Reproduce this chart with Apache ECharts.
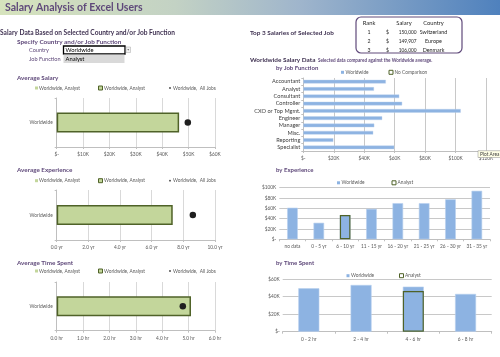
<!DOCTYPE html>
<html><head><meta charset="utf-8">
<script src="https://cdn.jsdelivr.net/npm/echarts@6/dist/echarts.min.js"></script>
<style>html,body{margin:0;padding:0;background:#fff}#c{width:500px;height:357px}</style>
</head><body><div id="c"></div>
<script>
// ---------- data ----------
const pageTitle = 'Salary Analysis of Excel Users';
const selectedCountry = 'Worldwide';
const selectedJob = 'Analyst';
const summaryCategory = ['Worldwide'];
const avgSalaryAnalyst = [46400];
const avgSalaryAllJobs = [49700];
const avgExpAnalyst = [7.33];
const avgExpAllJobs = [8.6];
const avgTimeAnalyst = [5.09];
const avgTimeAllJobs = [4.78];
const salaryTickLabels = ['$-', '$10K', '$20K', '$30K', '$40K', '$50K', '$60K'];
const expTickLabels = ['0.0 yr', '2.0 yr', '4.0 yr', '6.0 yr', '8.0 yr', '10.0 yr'];
const timeTickLabels = ['0.0 hr', '1.0 hr', '2.0 hr', '3.0 hr', '4.0 hr', '5.0 hr', '6.0 hr'];

const top3Rank = ['1', '2', '3'];
const top3Salary = ['150,000', '149,907', '106,000'];
const top3Country = ['Switzerland', 'Europe', 'Denmark'];

const jobFunctions = ['Accountant', 'Analyst', 'Consultant', 'Controller', 'CXO or Top Mgmt.', 'Engineer', 'Manager', 'Misc.', 'Reporting', 'Specialist'];
const jobWorldwide = [54200, 46400, 63000, 64900, 103400, 51800, 46600, 45900, 19700, 59700];
const jobTickLabels = ['$-', '$20K', '$40K', '$60K', '$80K', '$100K', '$120K'];

const expCategories = ['no data', '0 - 5 yr', '6 - 10 yr', '11 - 15 yr', '16 - 20 yr', '21 - 25 yr', '26 - 30 yr', '31 - 35 yr'];
const expWorldwide = [61200, 32000, 47000, 59000, 70000, 70000, 77500, 94000];
const expAnalyst = [null, null, 47000, null, null, null, null, null];
const expTickLabels2 = ['$-', '$20K', '$40K', '$60K', '$80K', '$100K'];

const timeCategories = ['0 - 2 hr', '2 - 4 hr', '4 - 6 hr', '6 - 8 hr'];
const timeWorldwide = [49400, 53200, 51300, 43000];
const timeAnalyst = [null, null, 46300, null];
const timeTickLabels2 = ['$-', '$20K', '$40K', '$60K'];

// ---------- styles ----------
const FONT = 'Lato';
const BLUE = '#8db3e2';
const GREEN = '#c3d69b';
const DKGREEN = '#4f6228';
const PURPLE = '#5f497a';
const DKPURPLE = '#3f3151';
const AXC = '#595959';
const GRID = '#d9d9d9';

const chart = echarts.init(document.getElementById('c'), null, {renderer: 'canvas'});

function lbl(arr, step) { return v => arr[Math.round(v / step)] ?? ''; }
function txt(x, y, s, size, o) {
  o = o || {};
  return {type: 'text', x: x, y: y, z: 100, style: {text: s, font: (o.bold ? 'bold ' : '') + size + 'px ' + FONT,
    fill: o.color || DKPURPLE, align: o.align || 'left', verticalAlign: 'middle'}};
}
function rect(x, y, w, h, fill, stroke, lw, r) {
  return {type: 'rect', z: 100, shape: {x: x, y: y, width: w, height: h, r: r || 0},
    style: {fill: fill, stroke: stroke || null, lineWidth: lw || 0}};
}
function dot(x, y, r, c) { return {type: 'circle', z: 100, shape: {cx: x, cy: y, r: r}, style: {fill: c}}; }

function leftLegend(y) {
  return [
    rect(35, y - 1.5, 3, 3, GREEN), txt(39, y, 'Worldwide, Analyst', 4.8, {color: AXC}),
    rect(98.5, y - 2, 4, 4, GREEN, DKGREEN, 1), txt(104, y, 'Worldwide, Analyst', 4.8, {color: AXC}),
    dot(170, y, 0.9, '#404040'), txt(173, y, 'Worldwide,  All Jobs', 4.8, {color: AXC})
  ];
}

const valAxisBase = {
  type: 'value', min: 0,
  axisLine: {show: true, lineStyle: {color: '#bfbfbf', width: 1}},
  axisTick: {show: true, length: 2, lineStyle: {color: '#bfbfbf'}},
  splitLine: {show: true, lineStyle: {color: GRID, width: 1}},
  axisLabel: {fontFamily: FONT, fontSize: 4.8, color: AXC, margin: 5}
};
const catAxisBase = {
  type: 'category',
  axisLine: {show: true, lineStyle: {color: '#bfbfbf', width: 1}},
  axisTick: {show: true, length: 2, lineStyle: {color: '#bfbfbf'}},
  axisLabel: {fontFamily: FONT, fontSize: 4.8, color: AXC, margin: 4}
};
const gridBase = {containLabel: false, outerBoundsMode: 'none'};

const grids = [
  Object.assign({left: 56.7, top: 98, width: 158.3, height: 49}, gridBase),
  Object.assign({left: 56.7, top: 190, width: 158.3, height: 50}, gridBase),
  Object.assign({left: 56.7, top: 282, width: 158.3, height: 48.7}, gridBase),
  Object.assign({left: 303.3, top: 78, width: 182.7, height: 73}, gridBase),
  Object.assign({left: 279.3, top: 187.7, width: 210.7, height: 51.6}, gridBase),
  Object.assign({left: 282.7, top: 279, width: 209, height: 52.7}, gridBase)
];

const xAxes = [
  Object.assign({}, valAxisBase, {gridIndex: 0, max: 60000, interval: 10000, axisLabel: Object.assign({}, valAxisBase.axisLabel, {formatter: lbl(salaryTickLabels, 10000)})}),
  Object.assign({}, valAxisBase, {gridIndex: 1, max: 10, interval: 2, axisLabel: Object.assign({}, valAxisBase.axisLabel, {formatter: lbl(expTickLabels, 2)})}),
  Object.assign({}, valAxisBase, {gridIndex: 2, max: 6, interval: 1, axisLabel: Object.assign({}, valAxisBase.axisLabel, {formatter: lbl(timeTickLabels, 1)})}),
  Object.assign({}, valAxisBase, {gridIndex: 3, max: 120000, interval: 20000, splitLine: {show: true, lineStyle: {color: '#c8c8c8'}}, axisLabel: Object.assign({}, valAxisBase.axisLabel, {formatter: lbl(jobTickLabels, 20000)})}),
  Object.assign({}, catAxisBase, {gridIndex: 4, data: expCategories, axisLabel: Object.assign({}, catAxisBase.axisLabel, {interval: 0, margin: 5})}),
  Object.assign({}, catAxisBase, {gridIndex: 5, data: timeCategories, axisLabel: Object.assign({}, catAxisBase.axisLabel, {interval: 0, margin: 5})})
];
const yAxes = [
  Object.assign({}, catAxisBase, {gridIndex: 0, data: summaryCategory}),
  Object.assign({}, catAxisBase, {gridIndex: 1, data: summaryCategory}),
  Object.assign({}, catAxisBase, {gridIndex: 2, data: summaryCategory}),
  Object.assign({}, catAxisBase, {gridIndex: 3, data: jobFunctions, inverse: true, axisLabel: Object.assign({}, catAxisBase.axisLabel, {interval: 0, fontSize: 5.6, color: '#404040', margin: 3})}),
  Object.assign({}, valAxisBase, {gridIndex: 4, max: 100000, interval: 20000, axisLine: {show: false}, axisTick: {show: false}, splitLine: {show: true, lineStyle: {color: '#c8c8c8'}}, axisLabel: Object.assign({}, valAxisBase.axisLabel, {margin: 3, formatter: lbl(expTickLabels2, 20000)})}),
  Object.assign({}, valAxisBase, {gridIndex: 5, max: 60000, interval: 20000, axisLine: {show: false}, axisTick: {show: false}, splitLine: {show: true, lineStyle: {color: '#c8c8c8'}}, axisLabel: Object.assign({}, valAxisBase.axisLabel, {margin: 3, formatter: lbl(timeTickLabels2, 20000)})})
];

function summarySeries(i, barVals, dotVals) {
  return [
    {type: 'bar', name: 'Worldwide, Analyst', xAxisIndex: i, yAxisIndex: i, data: barVals, barWidth: 20,
      itemStyle: {color: GREEN, borderColor: DKGREEN, borderWidth: 1.5}, z: 2},
    {type: 'scatter', name: 'Worldwide, All Jobs', xAxisIndex: i, yAxisIndex: i, data: dotVals.map((v, k) => [v, k]),
      symbolSize: 6.5, itemStyle: {color: '#1f1f1f', opacity: 1}, z: 5}
  ];
}

const series = [].concat(
  summarySeries(0, avgSalaryAnalyst, avgSalaryAllJobs),
  summarySeries(1, avgExpAnalyst, avgExpAllJobs),
  summarySeries(2, avgTimeAnalyst, avgTimeAllJobs),
  [
    {type: 'bar', name: 'Worldwide', xAxisIndex: 3, yAxisIndex: 3, data: jobWorldwide, barWidth: 3.6,
      itemStyle: {color: BLUE, borderColor: '#b9d0ee', borderWidth: 0.4}},
    {type: 'bar', name: 'Worldwide', xAxisIndex: 4, yAxisIndex: 4, data: expWorldwide, barWidth: 10.6,
      itemStyle: {color: BLUE, borderColor: '#b9d0ee', borderWidth: 0.6}},
    {type: 'bar', name: 'Analyst', xAxisIndex: 4, yAxisIndex: 4, data: expAnalyst, barWidth: 10.6, barGap: '-100%',
      itemStyle: {color: 'rgba(0,0,0,0)', borderColor: DKGREEN, borderWidth: 1.2}, z: 3},
    {type: 'bar', name: 'Worldwide', xAxisIndex: 5, yAxisIndex: 5, data: timeWorldwide, barWidth: 21,
      itemStyle: {color: BLUE, borderColor: '#b9d0ee', borderWidth: 0.6}},
    {type: 'bar', name: 'Analyst', xAxisIndex: 5, yAxisIndex: 5, data: timeAnalyst, barWidth: 21, barGap: '-100%',
      itemStyle: {color: 'rgba(0,0,0,0)', borderColor: DKGREEN, borderWidth: 1.2}, z: 3}
  ]
);

const graphics = [
  {type: 'rect', z: 1, shape: {x: 0, y: 0, width: 500, height: 15},
    style: {fill: new echarts.graphic.LinearGradient(0, 0, 1, 0, [
      {offset: 0, color: '#d6e3bd'}, {offset: 0.35, color: '#c3d2c4'}, {offset: 0.6, color: '#9fb5cc'}, {offset: 1, color: '#4f81bd'}])}},
  txt(5, 7.5, pageTitle, 10.5, {bold: true, color: PURPLE}),
  txt(0, 33, 'Salary Data Based on Selected Country and/or Job Function', 6.6, {bold: true}),
  txt(17, 41.7, 'Specify Country and/or Job Function', 6.4, {bold: true, color: PURPLE}),
  txt(29, 50, 'Country', 5.6, {color: PURPLE}),
  txt(29, 58.7, 'Job Function', 5.6, {color: PURPLE}),
  rect(63.5, 46, 61.5, 8, '#ffffff', '#000000', 1.3),
  txt(65.5, 50, selectedCountry, 5.8, {color: '#000'}),
  rect(126, 47, 4.5, 5.5, '#f2f2f2', '#a6a6a6', 0.5),
  {type: 'polygon', z: 101, shape: {points: [[127.3, 49.2], [129.2, 49.2], [128.25, 50.6]]}, style: {fill: '#404040'}},
  rect(63.5, 54.5, 61, 8.5, '#d9d9d9'),
  txt(65.5, 58.7, selectedJob, 5.8, {color: '#000'}),
  txt(17, 77.7, 'Average Salary', 6.3, {bold: true, color: PURPLE}),
  txt(17, 170, 'Average Experience', 6.3, {bold: true, color: PURPLE}),
  txt(17, 263, 'Average Time Spent', 6.3, {bold: true, color: PURPLE}),
  ...leftLegend(88),
  ...leftLegend(180.7),
  ...leftLegend(271),
  txt(250, 32.7, 'Top 3 Salaries of Selected Job', 6.4, {bold: true}),
  {type: 'rect', z: 99, shape: {x: 356, y: 17, width: 106, height: 36, r: 5}, style: {fill: '#fff', stroke: '#604a7b', lineWidth: 1.2}},
  txt(369, 23.3, 'Rank', 5.8, {align: 'center', color: '#262626'}),
  txt(404, 23.3, 'Salary', 5.8, {align: 'center', color: '#262626'}),
  txt(433.5, 23.3, 'Country', 5.8, {align: 'center', color: '#262626'}),
  ...top3Rank.flatMap((r, i) => {
    const y = 32.7 + i * 8.65;
    return [
      txt(369, y, r, 5.2, {align: 'center', color: '#262626'}),
      txt(386, y, '$', 5.2, {color: '#262626'}),
      txt(416.5, y, top3Salary[i], 4.8, {align: 'right', color: '#262626'}),
      txt(433.5, y, top3Country[i], 5.4, {align: 'center', color: '#262626'})
    ];
  }),
  txt(250, 60, 'Worldwide Salary Data', 6.4, {bold: true}),
  txt(318, 60.3, 'Selected data compared against the Worldwide average.', 4.6, {bold: true, color: PURPLE}),
  txt(276, 68.3, 'by Job Function', 6, {bold: true, color: PURPLE}),
  rect(341, 70.8, 3, 3, BLUE), txt(345.5, 72.3, 'Worldwide', 4.8, {color: AXC}),
  rect(389, 70.3, 4, 4, '#ffffff', DKGREEN, 1), txt(394.5, 72.3, 'No Comparison', 4.8, {color: AXC}),
  txt(276, 170, 'by Experience', 6, {bold: true, color: PURPLE}),
  rect(337, 181.3, 3, 3, BLUE), txt(341.5, 182.8, 'Worldwide', 4.8, {color: AXC}),
  rect(392, 180.8, 4, 4, '#ffffff', DKGREEN, 1), txt(397.5, 182.8, 'Analyst', 4.8, {color: AXC}),
  txt(276, 263.3, 'by Time Spent', 6, {bold: true, color: PURPLE}),
  rect(346.5, 274.2, 3, 3, BLUE), txt(351, 275.7, 'Worldwide', 4.8, {color: AXC}),
  rect(399.5, 273.7, 4, 4, '#ffffff', DKGREEN, 1), txt(405, 275.7, 'Analyst', 4.8, {color: AXC}),
  {type: 'rect', z: 200, shape: {x: 478, y: 150.7, width: 26, height: 6.8}, style: {fill: '#ffffe6', stroke: '#8c8c8c', lineWidth: 0.5}},
  {type: 'text', z: 201, x: 480, y: 154.2, style: {text: 'Plot Area', font: '4.8px ' + FONT, fill: '#404040', verticalAlign: 'middle'}}
];

chart.setOption({
  animation: false,
  backgroundColor: '#ffffff',
  textStyle: {fontFamily: FONT},
  grid: grids,
  xAxis: xAxes,
  yAxis: yAxes,
  series: series,
  graphic: graphics
});
</script></body></html>
